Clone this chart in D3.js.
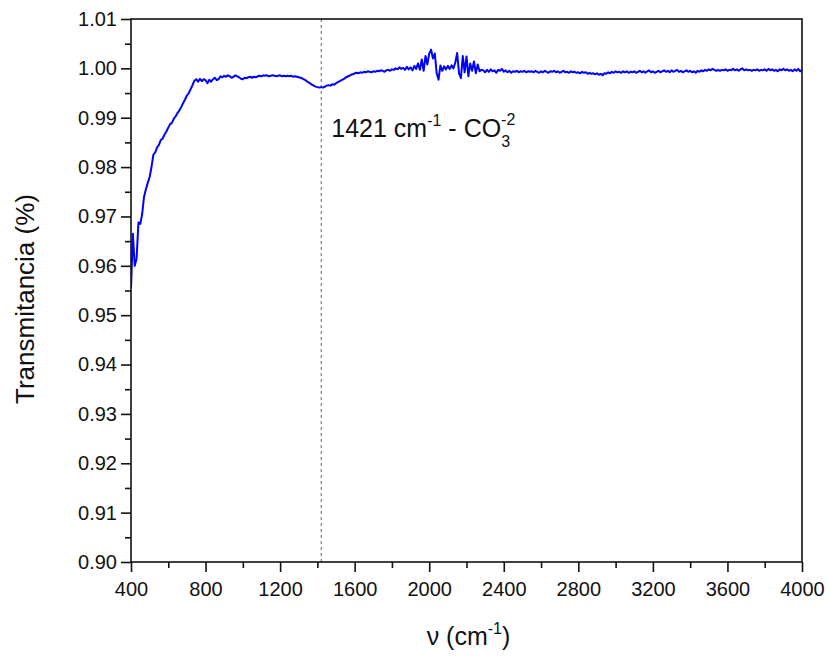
<!DOCTYPE html>
<html>
<head>
<meta charset="utf-8">
<script src="https://cdn.jsdelivr.net/npm/d3@7"></script>
<style>
  html, body { margin: 0; padding: 0; background: #fff; }
  svg text { font-family: "Liberation Sans", Arial, sans-serif; fill: #111; }
</style>
</head>
<body>
<svg id="chart" width="828" height="656"></svg>
<script>
// FTIR spectrum, sampled every 10 cm-1 from 400 to 4000 cm-1
const wavenumberStart = 400;
const wavenumberStep = 10;
const transmittance = [
  0.9555, 0.9665, 0.9600, 0.9615, 0.9688, 0.9685, 0.9705, 0.9740, 0.9755, 0.9768,
  0.9780, 0.9800, 0.9825, 0.9830, 0.9840, 0.9845, 0.9855, 0.9858, 0.9866, 0.9872,
  0.9880, 0.9887, 0.9890, 0.9898, 0.9903, 0.9910, 0.9915, 0.9922, 0.9930, 0.9937,
  0.9945, 0.9950, 0.9958, 0.9966, 0.9975, 0.9978, 0.9973, 0.9979, 0.9974, 0.9978,
  0.9976, 0.9970, 0.9977, 0.9973, 0.9978, 0.9981, 0.9976, 0.9978, 0.9984, 0.9982,
  0.9985, 0.9983, 0.9986, 0.9984, 0.9981, 0.9983, 0.9986, 0.9984, 0.9982, 0.9979,
  0.9978, 0.9981, 0.9980, 0.9982, 0.9983, 0.9981, 0.9983, 0.9982, 0.9984, 0.9985,
  0.9984, 0.9986, 0.9985, 0.9986, 0.9984, 0.9985, 0.9986, 0.9985, 0.9984, 0.9985,
  0.9986, 0.9984, 0.9985, 0.9984, 0.9985, 0.9984, 0.9985, 0.9983, 0.9984, 0.9983,
  0.9982, 0.9981, 0.9979, 0.9977, 0.9975, 0.9972, 0.9970, 0.9967, 0.9965, 0.9963,
  0.9962, 0.9961, 0.9962, 0.9961, 0.9963, 0.9965, 0.9966, 0.9965, 0.9968, 0.9967,
  0.9970, 0.9972, 0.9974, 0.9976, 0.9978, 0.9981, 0.9983, 0.9985, 0.9987, 0.9988,
  0.9990, 0.9991, 0.9990, 0.9992, 0.9991, 0.9993, 0.9992, 0.9994, 0.9993, 0.9992,
  0.9994, 0.9993, 0.9995, 0.9994, 0.9996, 0.9995, 0.9993, 0.9996, 0.9997, 0.9995,
  0.9998, 0.9997, 1.0000, 0.9998, 1.0002, 0.9999, 1.0001, 0.9997, 1.0003, 0.9998,
  1.0002, 0.9996, 1.0005, 0.9999, 1.0010, 0.9997, 1.0018, 0.9995, 1.0025, 1.0008,
  1.0030, 1.0038, 1.0020, 1.0030, 0.9990, 0.9977, 1.0006, 0.9995, 1.0004, 0.9998,
  1.0005, 0.9999, 1.0006, 1.0000, 1.0012, 1.0031, 0.9990, 0.9980, 1.0025, 0.9992,
  1.0024, 0.9984, 1.0010, 0.9995, 1.0014, 0.9990, 1.0008, 0.9994, 0.9997, 0.9996,
  0.9992, 0.9997, 0.9993, 0.9998, 0.9994, 0.9996, 0.9991, 0.9997, 0.9995, 0.9999,
  0.9993, 0.9996, 0.9992, 0.9995, 0.9991, 0.9994, 0.9993, 0.9995, 0.9992, 0.9994,
  0.9993, 0.9995, 0.9992, 0.9994, 0.9993, 0.9994, 0.9992, 0.9995, 0.9993, 0.9991,
  0.9994, 0.9992, 0.9995, 0.9993, 0.9991, 0.9994, 0.9993, 0.9995, 0.9992, 0.9994,
  0.9991, 0.9993, 0.9995, 0.9992, 0.9993, 0.9991, 0.9994, 0.9992, 0.9993, 0.9991,
  0.9992, 0.9990, 0.9993, 0.9991, 0.9992, 0.9989, 0.9991, 0.9989, 0.9990, 0.9988,
  0.9990, 0.9987, 0.9989, 0.9986, 0.9990, 0.9989, 0.9992, 0.9990, 0.9993, 0.9991,
  0.9994, 0.9992, 0.9993, 0.9991, 0.9994, 0.9992, 0.9994, 0.9991, 0.9993, 0.9992,
  0.9994, 0.9991, 0.9993, 0.9995, 0.9992, 0.9994, 0.9991, 0.9994, 0.9996, 0.9992,
  0.9994, 0.9991, 0.9993, 0.9995, 0.9992, 0.9994, 0.9996, 0.9993, 0.9995, 0.9992,
  0.9996, 0.9993, 0.9995, 0.9997, 0.9993, 0.9995, 0.9992, 0.9994, 0.9996, 0.9993,
  0.9995, 0.9992, 0.9994, 0.9991, 0.9995, 0.9993, 0.9996, 0.9994, 0.9997, 0.9995,
  0.9998, 0.9996, 0.9999, 0.9997, 0.9995, 0.9997, 0.9995, 0.9997, 0.9996, 0.9998,
  0.9995, 0.9997, 0.9996, 0.9999, 0.9996, 0.9998, 0.9995, 0.9998, 1.0000, 0.9996,
  0.9998, 0.9996, 0.9997, 0.9995, 0.9997, 0.9996, 0.9998, 0.9995, 0.9997, 0.9996,
  0.9998, 0.9995, 0.9999, 0.9996, 0.9998, 0.9995, 0.9997, 0.9994, 0.9998, 0.9996,
  0.9999, 0.9996, 0.9998, 0.9995, 0.9997, 0.9994, 0.9998, 0.9995, 0.9999, 0.9994,
  0.9997
];

// Axis ticks
const xMajorTicks = [400, 800, 1200, 1600, 2000, 2400, 2800, 3200, 3600, 4000];
const xMinorTicks = [600, 1000, 1400, 1800, 2200, 2600, 3000, 3400, 3800];
const yMajorTicks = [0.90, 0.91, 0.92, 0.93, 0.94, 0.95, 0.96, 0.97, 0.98, 0.99, 1.00, 1.01];
const yMinorTicks = [0.905, 0.915, 0.925, 0.935, 0.945, 0.955, 0.965, 0.975, 0.985, 0.995, 1.005];

// Carbonate band marker
const bandPosition = 1421;

const points = transmittance.map((t, i) => ({ nu: wavenumberStart + i * wavenumberStep, t }));

const svg = d3.select("#chart");
const plot = { left: 131, right: 802, top: 19, bottom: 562 };

const x = d3.scaleLinear().domain([400, 4000]).range([plot.left, plot.right]);
const y = d3.scaleLinear().domain([0.90, 1.01]).range([plot.bottom, plot.top]);

const line = d3.line().x(d => x(d.nu)).y(d => y(d.t));
svg.append("defs").append("clipPath").attr("id", "clip")
  .append("rect").attr("x", plot.left).attr("y", plot.top)
  .attr("width", plot.right - plot.left).attr("height", plot.bottom - plot.top);

// Dotted marker line
svg.append("line")
  .attr("x1", x(bandPosition)).attr("x2", x(bandPosition))
  .attr("y1", plot.top).attr("y2", plot.bottom)
  .attr("stroke", "#888").attr("stroke-width", 1.3)
  .attr("stroke-dasharray", "3,3");

// Spectrum
svg.append("path")
  .datum(points)
  .attr("clip-path", "url(#clip)")
  .attr("fill", "none")
  .attr("stroke", "#0000ff")
  .attr("stroke-width", 2)
  .attr("stroke-linejoin", "round")
  .attr("d", line);

// Frame
svg.append("rect")
  .attr("x", plot.left).attr("y", plot.top)
  .attr("width", plot.right - plot.left).attr("height", plot.bottom - plot.top)
  .attr("fill", "none").attr("stroke", "#111").attr("stroke-width", 1.6);

// X axis
const xAxis = svg.append("g").attr("transform", `translate(0,${plot.bottom})`);
xAxis.call(d3.axisBottom(x).tickValues(xMajorTicks).tickSize(10).tickSizeOuter(0).tickFormat(d3.format("d")));
xAxis.append("g").call(d3.axisBottom(x).tickValues(xMinorTicks).tickSize(6).tickSizeOuter(0).tickFormat(""));
xAxis.selectAll(".domain").remove();
xAxis.selectAll("line").attr("stroke", "#111").attr("stroke-width", 1.6);
xAxis.selectAll("text").attr("font-size", 20).attr("dy", 0).attr("y", 34);

// Y axis
const yAxis = svg.append("g").attr("transform", `translate(${plot.left},0)`);
yAxis.call(d3.axisLeft(y).tickValues(yMajorTicks).tickSize(10).tickSizeOuter(0).tickFormat(d3.format(".2f")));
yAxis.append("g").call(d3.axisLeft(y).tickValues(yMinorTicks).tickSize(6).tickSizeOuter(0).tickFormat(""));
yAxis.selectAll(".domain").remove();
yAxis.selectAll("line").attr("stroke", "#111").attr("stroke-width", 1.6);
yAxis.selectAll("text").attr("font-size", 20).attr("x", -14);

// Axis titles
svg.append("text")
  .attr("transform", "translate(34,299) rotate(-90)")
  .attr("text-anchor", "middle")
  .attr("font-size", 26)
  .text("Transmitancia (%)");

const xTitle = svg.append("text")
  .attr("x", (plot.left + plot.right) / 2 + 2)
  .attr("y", 645)
  .attr("text-anchor", "middle")
  .attr("font-size", 25);
xTitle.append("tspan").text("\u03bd (cm");
xTitle.append("tspan").attr("font-size", 16).attr("dy", -11).text("-1");
xTitle.append("tspan").attr("dy", 11).text(")");

// Band annotation
const note = svg.append("text")
  .attr("x", x(bandPosition) + 10)
  .attr("y", 137)
  .attr("font-size", 25);
note.append("tspan").text("1421 cm");
note.append("tspan").attr("font-size", 16).attr("dy", -11).text("-1");
note.append("tspan").attr("dy", 11).text(" - CO");
note.append("tspan").attr("font-size", 16).attr("dy", 10).text("3");
note.append("tspan").attr("font-size", 16).attr("dx", -9).attr("dy", -22).text("-2");
</script>
</body>
</html>
